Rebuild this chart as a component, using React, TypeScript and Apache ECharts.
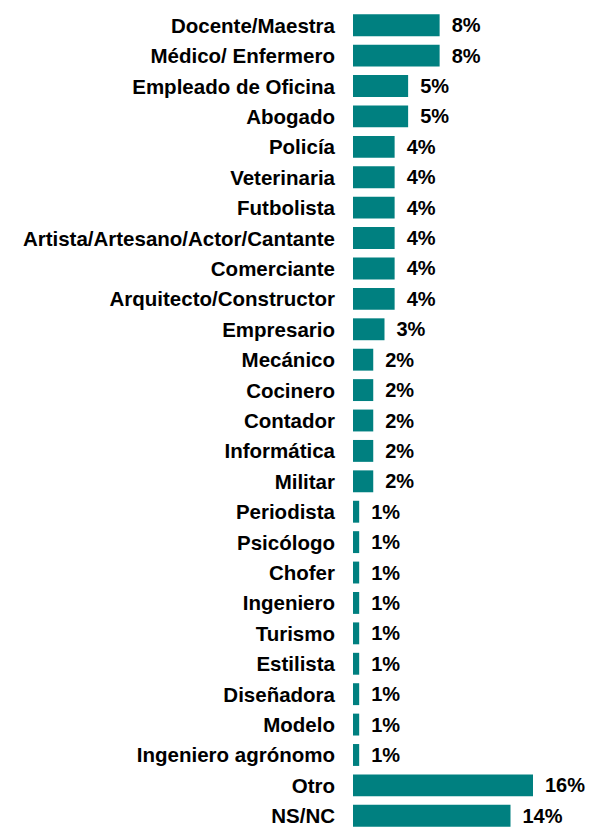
import React, { useEffect, useRef } from "react";
import * as echarts from "echarts";

const categories = [
  "Docente/Maestra",
  "Médico/ Enfermero",
  "Empleado de Oficina",
  "Abogado",
  "Policía",
  "Veterinaria",
  "Futbolista",
  "Artista/Artesano/Actor/Cantante",
  "Comerciante",
  "Arquitecto/Constructor",
  "Empresario",
  "Mecánico",
  "Cocinero",
  "Contador",
  "Informática",
  "Militar",
  "Periodista",
  "Psicólogo",
  "Chofer",
  "Ingeniero",
  "Turismo",
  "Estilista",
  "Diseñadora",
  "Modelo",
  "Ingeniero agrónomo",
  "Otro",
  "NS/NC",
];

const values = [
  7.7, 7.7, 4.9, 4.9, 3.7, 3.7, 3.7, 3.7, 3.7, 3.7, 2.8, 1.8, 1.8, 1.8, 1.8,
  1.8, 0.55, 0.55, 0.55, 0.55, 0.55, 0.55, 0.55, 0.55, 0.55, 16, 14,
];

const valueLabels = [
  "8%", "8%", "5%", "5%", "4%", "4%", "4%", "4%", "4%", "4%", "3%", "2%",
  "2%", "2%", "2%", "2%", "1%", "1%", "1%", "1%", "1%", "1%", "1%", "1%",
  "1%", "16%", "14%",
];

export default function App() {
  const ref = useRef<HTMLDivElement>(null);
  useEffect(() => {
    if (!ref.current) return;
    const chart = echarts.init(ref.current, undefined, { renderer: "svg" });
    chart.setOption({
      animation: false,
      grid: { left: 353, right: 14, top: 10, bottom: 0, containLabel: false },
      xAxis: { type: "value", min: 0, max: 20, show: false },
      yAxis: {
        type: "category",
        data: categories,
        inverse: true,
        axisLine: { show: false },
        axisTick: { show: false },
        axisLabel: {
          margin: 18,
          color: "#000",
          fontFamily: "Liberation Sans, Arial, sans-serif",
          fontWeight: "bold",
          fontSize: 20.5,
        },
      },
      series: [
        {
          type: "bar",
          data: values,
          barCategoryGap: "28%",
          itemStyle: { color: "#008080" },
          label: {
            show: true,
            position: "right",
            distance: 12,
            color: "#000",
            fontFamily: "Liberation Sans, Arial, sans-serif",
            fontWeight: "bold",
            fontSize: 20,
            formatter: (p: any) => valueLabels[p.dataIndex],
          },
        },
      ],
    });
    return () => chart.dispose();
  }, []);
  return (
    <div
      style={{
        position: "fixed",
        left: 0,
        top: 0,
        width: 592,
        height: 827,
        overflow: "hidden",
        background: "#fff",
      }}
    >
      <div ref={ref} style={{ width: 592, height: 831 }} />
    </div>
  );
}
